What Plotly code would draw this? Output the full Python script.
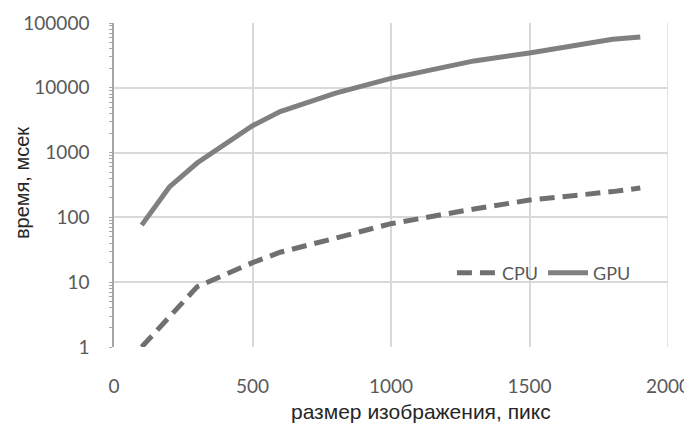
import plotly.graph_objects as go

sizes = [100, 200, 300, 500, 600, 800, 1000, 1300, 1500, 1800, 1900]
cpu_ms = [1, 3, 8.5, 20, 29, 48, 80, 135, 185, 250, 285]
gpu_ms = [76, 295, 690, 2600, 4300, 8300, 14000, 26000, 34500, 56000, 61000]

x_ticks = [0, 500, 1000, 1500, 2000]
y_ticks = [1, 10, 100, 1000, 10000, 100000]
y_tick_labels = ["1", "10", "100", "1000", "10000", "100000"]

tick_font = dict(family="Lato, Open Sans, sans-serif", size=19, color="#595959")

fig = go.Figure()
fig.add_trace(go.Scatter(x=sizes, y=cpu_ms, mode="lines", name="CPU",
                         line=dict(color="#707070", width=5, dash="15px,8px")))
fig.add_trace(go.Scatter(x=sizes, y=gpu_ms, mode="lines", name="GPU",
                         line=dict(color="#808080", width=5)))

# page body has an 8px default margin, so the figure is offset by 8px
fig.update_layout(
    width=684, height=416,
    margin=dict(l=106, r=24, t=15, b=77),
    paper_bgcolor="white", plot_bgcolor="white",
    showlegend=True,
    legend=dict(orientation="h", x=0.61, y=0.228, xanchor="left", yanchor="middle",
                font=dict(family="Lato, Open Sans, sans-serif", size=18, color="#595959"),
                bgcolor="rgba(0,0,0,0)", itemwidth=40, tracegroupgap=0),
)
fig.update_xaxes(
    range=[0, 2000], tickvals=x_ticks, ticktext=[str(v) for v in x_ticks],
    showgrid=True, gridcolor="#d9d9d9", gridwidth=1.5,
    zeroline=False, showline=False, ticks="", automargin=False,
    tickfont=tick_font, ticklabelstandoff=26,
)
fig.update_yaxes(
    type="log", range=[0, 5], tickvals=y_ticks, ticktext=y_tick_labels,
    showgrid=True, gridcolor="#d9d9d9", gridwidth=1.5,
    zeroline=False, showline=True, linecolor="#a6a6a6", linewidth=1.5,
    ticks="outside", ticklen=3, tickcolor="#a6a6a6", automargin=False,
    minor=dict(ticks="outside", ticklen=3, tickcolor="#a6a6a6", showgrid=False,
               tickvals=[m * 10 ** e for e in range(0, 5) for m in range(2, 10)]),
    tickfont=tick_font, ticklabelstandoff=16,
)
fig.add_shape(type="line", xref="x", yref="paper", x0=2000, x1=2000, y0=0, y1=1,
              line=dict(color="#d9d9d9", width=1.5), layer="below")
fig.add_annotation(text="размер изображения, пикс", xref="paper", yref="paper",
                   x=0.554, y=-0.2, xanchor="center", yanchor="middle",
                   showarrow=False,
                   font=dict(family="Liberation Sans, Arial, sans-serif", size=21, color="#262626"))
fig.add_annotation(text="время, мсек", xref="paper", yref="paper",
                   x=-0.166, y=0.506, xanchor="center", yanchor="middle",
                   textangle=-90, showarrow=False,
                   font=dict(family="Liberation Sans, Arial, sans-serif", size=20, color="#262626"))

fig.write_html("out.html")
